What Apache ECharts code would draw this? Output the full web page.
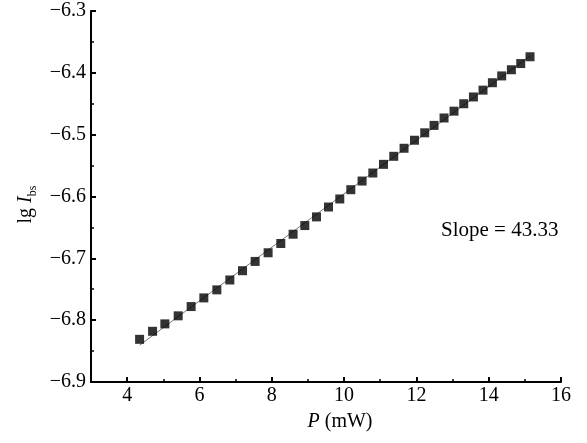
<!DOCTYPE html>
<html>
<head>
<meta charset="utf-8">
<script src="https://cdn.jsdelivr.net/npm/echarts@6/dist/echarts.min.js"></script>
<style>
  html, body { margin: 0; padding: 0; background: #fff; }
  #chart { width: 587px; height: 443px; }
</style>
</head>
<body>
<div id="chart"></div>
<script>
// Power P (mW) and log of the measured current lg I_bs
const powerMW = [
  4.344, 4.703, 5.043, 5.411, 5.770, 6.121, 6.481, 6.840, 7.191, 7.540,
  7.899, 8.250, 8.590, 8.914, 9.237, 9.569, 9.881, 10.186, 10.498, 10.795,
  11.091, 11.374, 11.659, 11.947, 12.231, 12.489, 12.765, 13.041, 13.310, 13.578,
  13.843, 14.103, 14.360, 14.628, 14.886, 15.143
];
const lgIbs = [
  -6.831, -6.818, -6.806, -6.793, -6.778, -6.764, -6.751, -6.735, -6.720, -6.705,
  -6.691, -6.676, -6.661, -6.647, -6.633, -6.617, -6.604, -6.589, -6.575, -6.562,
  -6.548, -6.535, -6.522, -6.509, -6.497, -6.485, -6.473, -6.462, -6.450, -6.439,
  -6.428, -6.416, -6.405, -6.395, -6.385, -6.374
];
const xMajorTicks = [4, 6, 8, 10, 12, 14, 16];
const xMinorTicks = [5, 7, 9, 11, 13, 15];
const slopeText = 'Slope = 43.33';

// least-squares straight line through the measured points
function linearFit(xs, ys) {
  const n = xs.length;
  let sx = 0, sy = 0, sxx = 0, sxy = 0;
  for (let i = 0; i < n; i++) {
    sx += xs[i]; sy += ys[i]; sxx += xs[i] * xs[i]; sxy += xs[i] * ys[i];
  }
  const k = (n * sxy - sx * sy) / (n * sxx - sx * sx);
  const b = (sy - k * sx) / n;
  return { k, b };
}
const fit = linearFit(powerMW, lgIbs);
const xFirst = powerMW[0], xLast = powerMW[powerMW.length - 1];
const fitLine = [[xFirst, fit.k * xFirst + fit.b], [xLast, fit.k * xLast + fit.b]];

const FONT = '"Liberation Serif", "DejaVu Serif", serif';
const chart = echarts.init(document.getElementById('chart'), null, { renderer: 'canvas' });

chart.setOption({
  backgroundColor: '#ffffff',
  animation: false,
  grid: { left: 91, right: 26, top: 11, bottom: 61, containLabel: false },
  xAxis: [
    {
      type: 'value', min: 3, max: 16, position: 'bottom',
      axisLine: { show: true, lineStyle: { color: '#000', width: 2 } },
      axisTick: { show: true, inside: true, length: 5, lineStyle: { color: '#000', width: 2 }, customValues: xMajorTicks },
      axisLabel: { show: true, customValues: xMajorTicks, color: '#000', fontFamily: FONT, fontSize: 20, margin: 4 },
      splitLine: { show: false },
      name: '{i|P} (mW)',
      nameLocation: 'middle',
      nameGap: 30,
      nameTextStyle: {
        color: '#000', fontFamily: FONT, fontSize: 20,
        padding: [0, 0, 0, 28],
        rich: { i: { fontStyle: 'italic', fontFamily: FONT, fontSize: 20, color: '#000' } }
      }
    },
    {
      type: 'value', min: 3, max: 16, position: 'bottom',
      axisLine: { show: false },
      axisTick: { show: true, inside: true, length: 3, lineStyle: { color: '#000', width: 1.5 }, customValues: xMinorTicks },
      axisLabel: { show: false },
      splitLine: { show: false }
    }
  ],
  yAxis: {
    type: 'value', min: -6.9, max: -6.3, interval: 0.1,
    axisLine: { show: true, lineStyle: { color: '#000', width: 2 } },
    axisTick: { show: true, inside: true, length: 5, lineStyle: { color: '#000', width: 2 } },
    minorTick: { show: true, splitNumber: 2, length: 3, lineStyle: { color: '#000', width: 1.5 } },
    axisLabel: {
      color: '#000', fontFamily: FONT, fontSize: 20, margin: 5,
      formatter: v => (v < 0 ? '\u2212' : '') + Math.abs(v).toFixed(1)
    },
    splitLine: { show: false },
    name: '{r|lg }{i|I}{s|bs}',
    nameLocation: 'middle',
    nameRotate: 90,
    nameGap: 52,
    nameTextStyle: {
      color: '#000', fontFamily: FONT, fontSize: 20,
      padding: [0, 16, 0, 0],
      rich: {
        r: { fontFamily: FONT, fontSize: 20, color: '#000', lineHeight: 26, verticalAlign: 'middle' },
        i: { fontFamily: FONT, fontSize: 20, fontStyle: 'italic', color: '#000', lineHeight: 26, verticalAlign: 'middle' },
        s: { fontFamily: FONT, fontSize: 12, color: '#000', lineHeight: 26, verticalAlign: 'bottom' }
      }
    }
  },
  series: [
    {
      type: 'line',
      data: fitLine,
      xAxisIndex: 0,
      symbol: 'none',
      lineStyle: { color: '#777', width: 1 },
      z: 2,
      silent: true
    },
    {
      type: 'scatter',
      data: powerMW.map((p, i) => [p, lgIbs[i]]),
      xAxisIndex: 0,
      symbol: 'rect',
      symbolSize: 9,
      itemStyle: { color: '#000' },
      z: 3
    }
  ],
  graphic: [
    {
      type: 'text',
      left: 441,
      top: 220,
      style: { text: slopeText, fill: '#000', font: '21px ' + FONT }
    }
  ]
});
</script>
</body>
</html>
